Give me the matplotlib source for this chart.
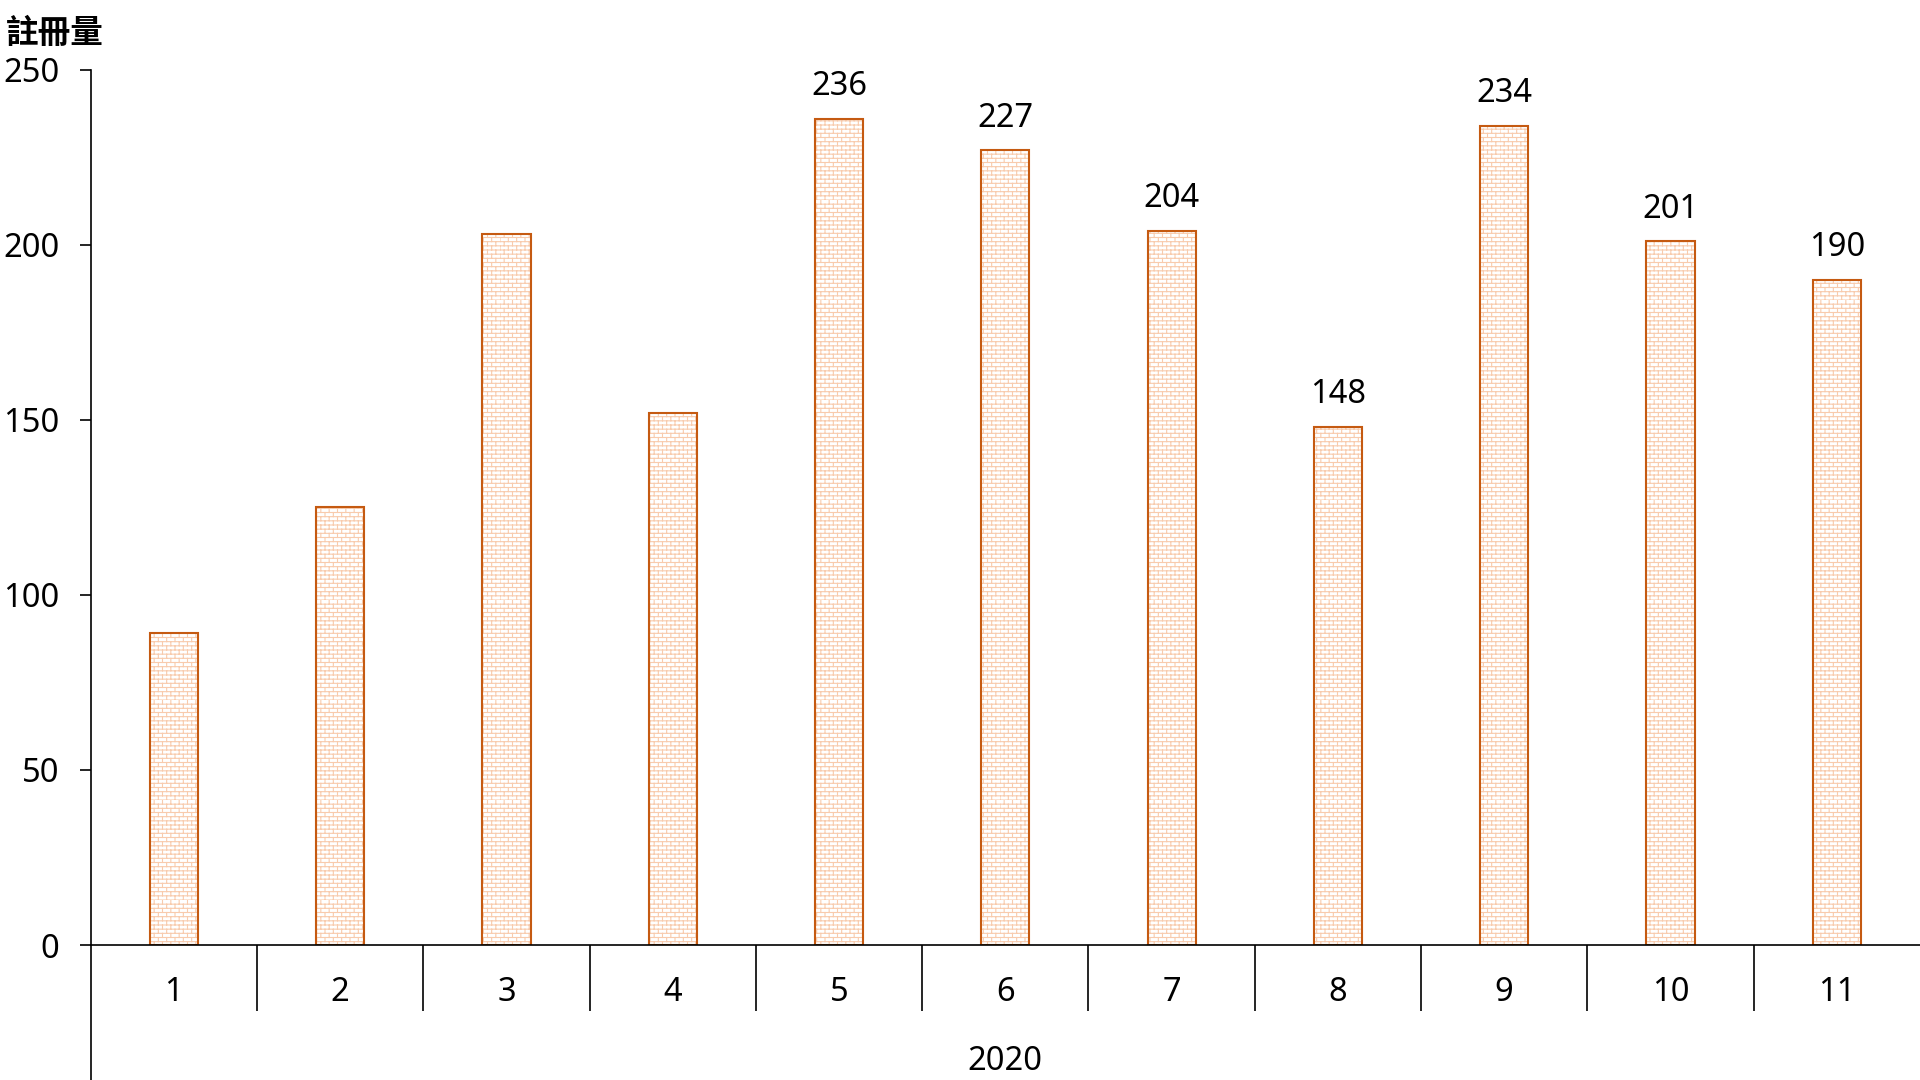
import numpy as np
import matplotlib; matplotlib.use("Agg")
import matplotlib.pyplot as plt
from matplotlib import hatch as mhatch
from matplotlib.path import Path

plt.rcParams["font.family"] = ["Noto Sans", "Noto Sans CJK TC", "DejaVu Sans"]
plt.rcParams["hatch.linewidth"] = 0.8

months = ["1", "2", "3", "4", "5", "6", "7", "8", "9", "10", "11"]
values = [89, 125, 203, 152, 236, 227, 204, 148, 234, 201, 190]
labelled = [False, False, False, False, True, True, True, True, True, True, True]
year = "2020"
ylabel = "註冊量"

EDGE = "#C55A11"; BRICK = "#F8CBAD"

# brick hatch: replace the '+' pattern with staggered bricks
class BrickHatch(mhatch.HatchPatternBase):
    def __init__(self, hatch, density):
        self.rows = 24 * hatch.count("+")
        self.per_row = self.rows // 2
        self.num_vertices = 2 * self.rows + 2 * self.rows * self.per_row

    def set_vertices_and_codes(self, vertices, codes):
        n = self.rows
        i = 0
        for k in range(n):
            y = k / n
            vertices[i] = (0, y); vertices[i + 1] = (1, y)
            codes[i] = Path.MOVETO; codes[i + 1] = Path.LINETO
            i += 2
            off = (k % 2) / n
            for j in range(self.per_row):
                x = j * 2 / n + off
                vertices[i] = (x, y); vertices[i + 1] = (x, y + 1 / n)
                codes[i] = Path.MOVETO; codes[i + 1] = Path.LINETO
                i += 2

mhatch._hatch_types = [BrickHatch]

FS = 23.5
fig = plt.figure(figsize=(19.2, 10.8), dpi=100)
ax = fig.add_axes([0.0472, 0.125, 0.9528, 0.8104])
x = np.arange(len(months))
ax.bar(x, values, width=0.29, color="white", edgecolor=BRICK, hatch="+", linewidth=0)
ax.bar(x, values, width=0.29, fill=False, edgecolor=EDGE, linewidth=1.5)
for xi, v, show in zip(x, values, labelled):
    if show:
        ax.annotate(str(v), (xi, v), xytext=(0, 17), textcoords="offset points",
                    ha="center", va="baseline", fontsize=FS)

ax.set_xlim(-0.5, len(months) - 0.5)
ax.set_ylim(0, 250)
ax.set_yticks([0, 50, 100, 150, 200, 250])
ax.tick_params(axis="y", length=7.6, width=1.2, pad=15, labelsize=FS)
ax.set_xticks(x)
ax.set_xticklabels(months)
ax.set_xticks(np.arange(0.5, len(months) - 1, 1), minor=True)
ax.tick_params(axis="x", which="major", length=0, pad=22, labelsize=FS)
ax.tick_params(axis="x", which="minor", length=47.5, width=1.2)
for s in ["top", "right"]:
    ax.spines[s].set_visible(False)
for s in ["left", "bottom"]:
    ax.spines[s].set_linewidth(1.2)
ax.plot([0, 0], [0, -0.16], transform=ax.transAxes, color="black", lw=1.2, clip_on=False)
ax.text(0.5, -0.133, year, transform=ax.transAxes, ha="center", va="center", fontsize=FS)
fig.text(6 / 1920, 1 - 35 / 1080, ylabel, ha="left", va="center", fontsize=23.5, fontweight="bold")

fig.savefig("out.png", dpi=100)
